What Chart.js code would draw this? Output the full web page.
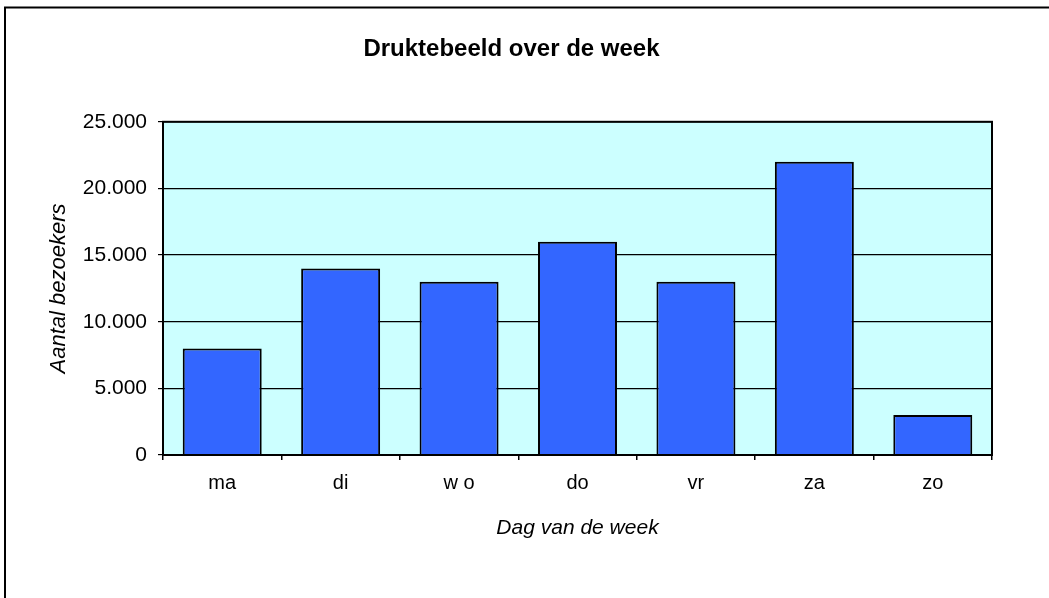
<!DOCTYPE html>
<html>
<head>
<meta charset="utf-8">
<script src="https://cdn.jsdelivr.net/npm/chart.js@4.4.1/dist/chart.umd.min.js"></script>
<style>
    html, body { margin: 0; padding: 0; background: #fff; }
    #wrap { width: 1049px; height: 598px; }
</style>
</head>
<body>
<div id="wrap"><canvas id="drukteChart" width="1049" height="598"></canvas></div>
<script>
// Data
const days = ['ma', 'di', 'w o', 'do', 'vr', 'za', 'zo'];
const visitors = [8000, 14000, 13000, 16000, 13000, 22000, 3000];
const yTicks = [0, 5000, 10000, 15000, 20000, 25000];

const FONT = "'Liberation Sans', Arial, sans-serif";

// 25000 -> "25.000"
function formatThousands(v) {
    return String(v).replace(/\B(?=(\d{3})+(?!\d))/g, '.');
}

// Background, outer frame and plot area fill
const plotBackground = {
    id: 'plotBackground',
    beforeDraw(chart) {
        const ctx = chart.ctx;
        const area = chart.chartArea;
        ctx.save();
        ctx.fillStyle = '#ffffff';
        ctx.fillRect(0, 0, chart.width, chart.height);
        ctx.strokeStyle = '#000000';
        ctx.lineWidth = 2;
        ctx.strokeRect(5, 7.5, chart.width + 20, chart.height + 20);
        ctx.fillStyle = '#ccffff';
        ctx.fillRect(area.left, area.top, area.right - area.left, area.bottom - area.top);
        ctx.restore();
    },
    afterDraw(chart) {
        const ctx = chart.ctx;
        const area = chart.chartArea;
        ctx.save();
        ctx.strokeStyle = '#000000';
        ctx.lineWidth = 2;
        ctx.strokeRect(area.left, area.top, area.right - area.left, area.bottom - area.top);
        ctx.restore();
    }
};

function renderChart() {
    const ctx = document.getElementById('drukteChart').getContext('2d');
    new Chart(ctx, {
        type: 'bar',
        data: {
            labels: days,
            datasets: [{
                label: 'Aantal bezoekers',
                data: visitors,
                backgroundColor: '#3366ff',
                borderColor: '#000000',
                borderWidth: 2,
                categoryPercentage: 1,
                barPercentage: 0.667
            }]
        },
        options: {
            responsive: false,
            animation: false,
            layout: {
                padding: { left: 31, right: 57, top: 0, bottom: 0 }
            },
            plugins: {
                legend: { display: false },
                tooltip: { enabled: false },
                title: {
                    display: true,
                    text: 'Druktebeeld over de week',
                    color: '#000000',
                    font: { family: FONT, size: 24, weight: 'bold' },
                    padding: { top: 35, bottom: 58 }
                }
            },
            scales: {
                x: {
                    afterFit(scale) { scale.height = 143; },
                    grid: {
                        offset: true,
                        drawOnChartArea: false,
                        drawTicks: true,
                        tickLength: 5,
                        color: '#000000',
                        lineWidth: 1.5
                    },
                    border: { display: true, color: '#000000', width: 2 },
                    ticks: {
                        color: '#000000',
                        padding: 11,
                        maxRotation: 0,
                        font: { family: FONT, size: 20 }
                    },
                    title: {
                        display: true,
                        text: 'Dag van de week',
                        color: '#000000',
                        font: { family: FONT, size: 21, style: 'italic' },
                        padding: { top: 0, bottom: 57 }
                    }
                },
                y: {
                    min: 0,
                    max: 25000,
                    afterFit(scale) { scale.width = 132; },
                    afterBuildTicks(scale) {
                        scale.ticks = yTicks.map(v => ({ value: v }));
                    },
                    grid: {
                        drawOnChartArea: true,
                        drawTicks: true,
                        tickLength: 5,
                        color: '#000000',
                        lineWidth: 1.2
                    },
                    border: { display: true, color: '#000000', width: 2 },
                    ticks: {
                        color: '#000000',
                        padding: 11,
                        font: { family: FONT, size: 21 },
                        callback: function(value) {
                            return formatThousands(value);
                        }
                    },
                    title: {
                        display: true,
                        text: 'Aantal bezoekers',
                        color: '#000000',
                        font: { family: FONT, size: 22, style: 'italic' },
                        padding: { top: 15, bottom: 0 }
                    }
                }
            }
        },
        plugins: [plotBackground]
    });
}

renderChart();
</script>
</body>
</html>
